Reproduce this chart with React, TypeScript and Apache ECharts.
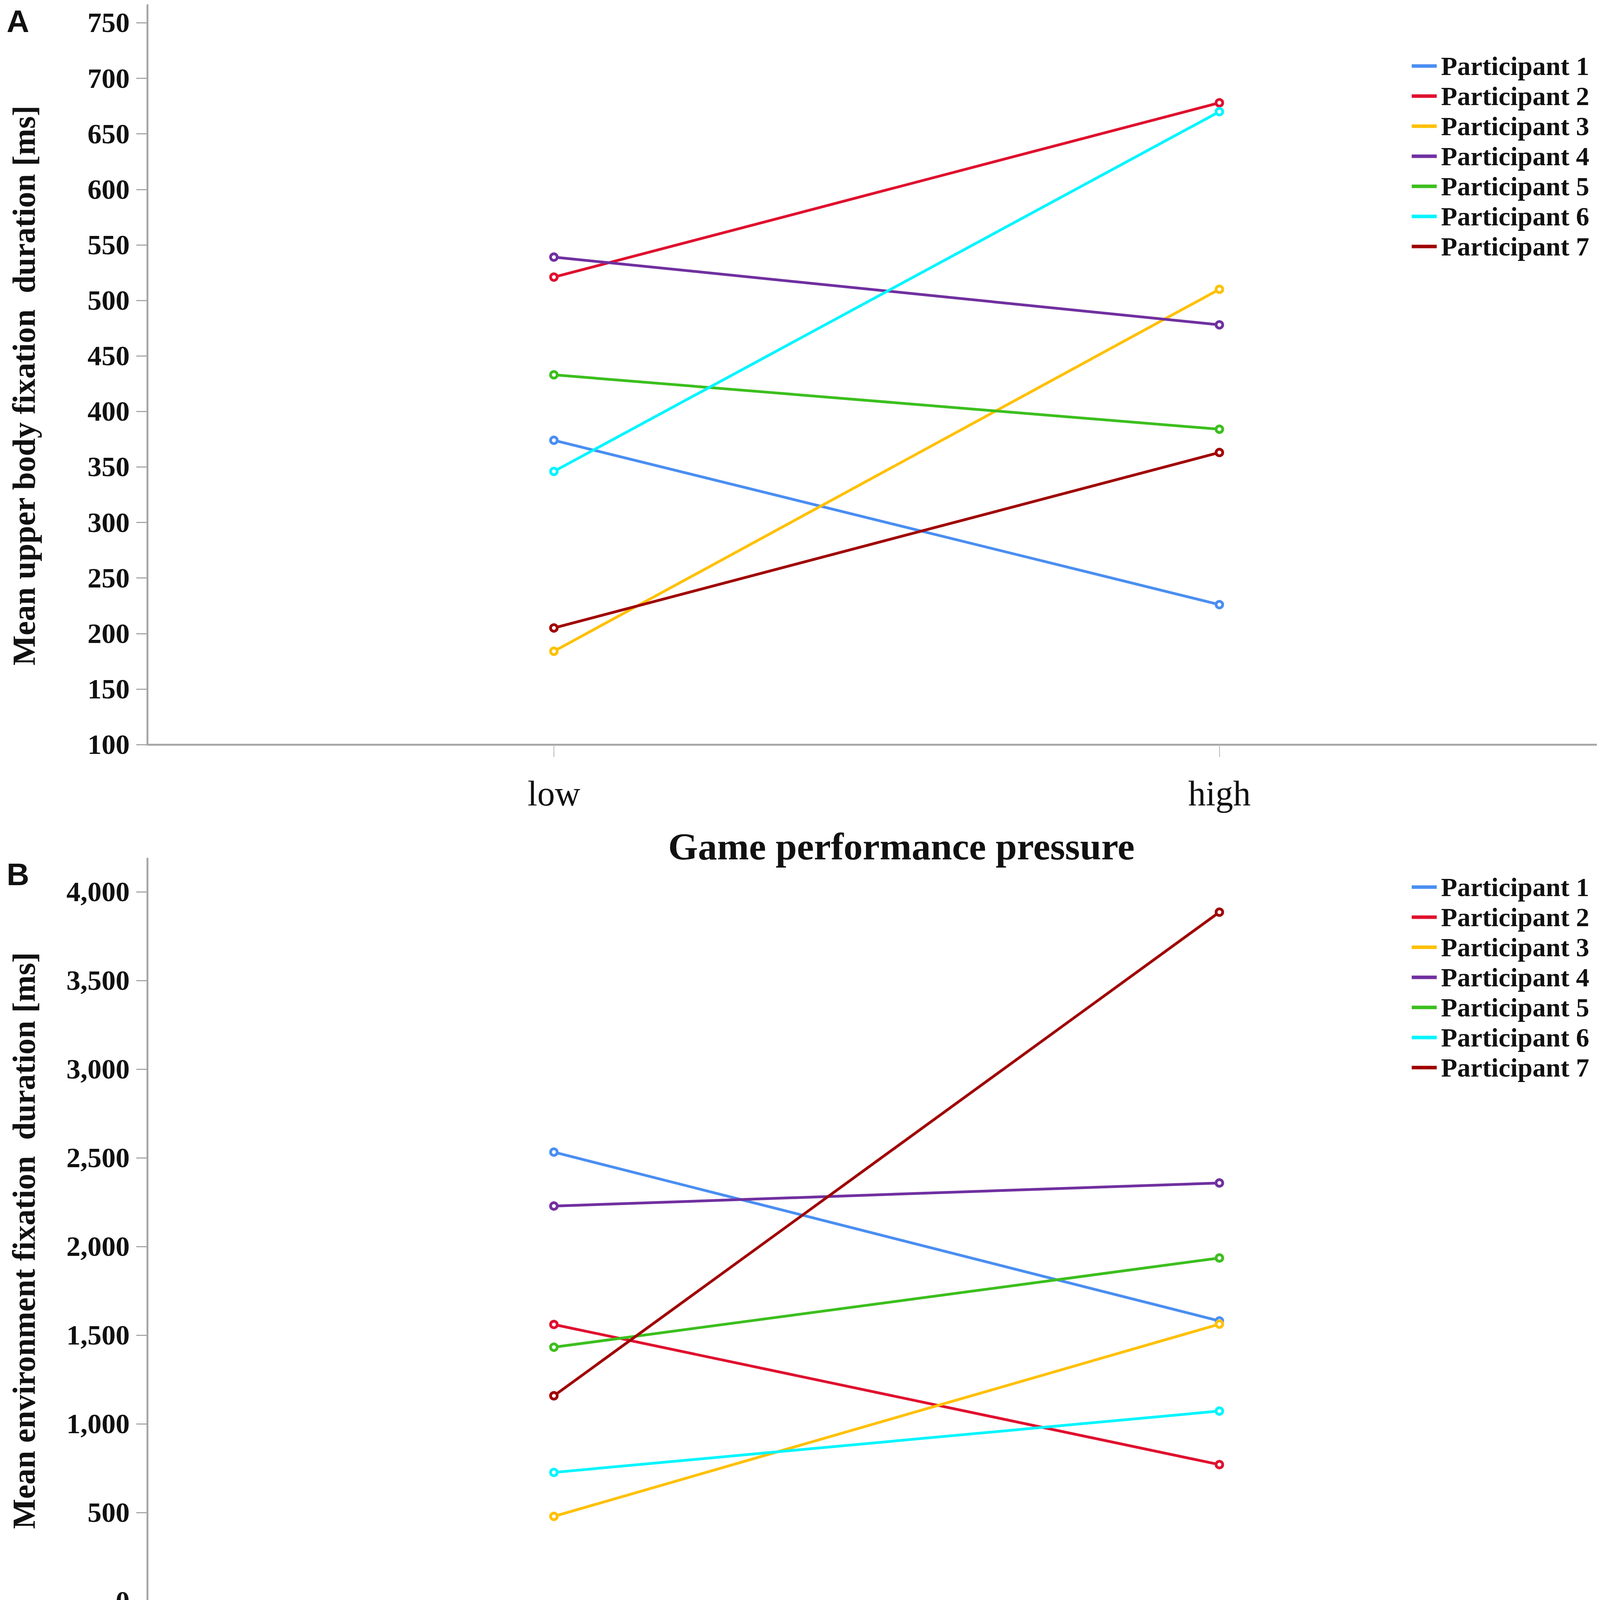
import React, { useEffect, useRef } from "react";
import * as echarts from "echarts";

const participants = [
  "Participant 1",
  "Participant 2",
  "Participant 3",
  "Participant 4",
  "Participant 5",
  "Participant 6",
  "Participant 7",
];
const pressureLevels = ["low", "high"];

// Panel A: mean upper body fixation duration [ms]
const upperBodyLow = [374, 521, 184, 539, 433, 346, 205];
const upperBodyHigh = [226, 678, 510, 478, 384, 670, 363];

// Panel B: mean environment fixation duration [ms]
const environmentLow = [2532, 1560, 478, 2228, 1432, 726, 1158];
const environmentHigh = [1580, 770, 1562, 2358, 1935, 1072, 3885];

const upperBodyTicks = [100, 150, 200, 250, 300, 350, 400, 450, 500, 550, 600, 650, 700, 750];
const environmentTicks = [0, 500, 1000, 1500, 2000, 2500, 3000, 3500, 4000];
const pressureTicks = [0, 1];

const colors = ["#4a8ef2", "#e0102e", "#ffc000", "#7030a0", "#3cbf1e", "#00f5ff", "#a00000"];

const SERIF = "'Liberation Serif', 'DejaVu Serif', serif";
const SANS = "'Liberation Sans', Arial, sans-serif";

export default function App() {
  const ref = useRef<HTMLDivElement>(null);

  useEffect(() => {
    if (!ref.current) return;
    const chart = echarts.init(ref.current, undefined, { renderer: "svg" });

    const xAxisBase = (gridIndex: number, labelMargin: number, nameGap: number) => ({
      type: "value",
      gridIndex,
      min: -0.611,
      max: 1.613,
      name: "Game performance pressure",
      nameLocation: "middle",
      nameGap,
      nameTextStyle: {
        fontFamily: SERIF,
        fontWeight: "bold",
        fontSize: 98,
        color: "#111",
        verticalAlign: "top",
        padding: [0, 0, 0, 72],
      },
      splitLine: { show: false },
      axisLine: { show: true, onZero: false, lineStyle: { color: "#a8a8a8", width: 5 } },
      axisTick: {
        show: true,
        customValues: pressureTicks,
        length: 32,
        lineStyle: { color: "#b8b8b8", width: 2 },
      },
      axisLabel: {
        customValues: pressureTicks,
        margin: labelMargin,
        fontFamily: SERIF,
        fontSize: 90,
        color: "#111",
        formatter: (v: number) => pressureLevels[Math.round(v)] ?? "",
      },
    });

    const yAxisBase = (
      gridIndex: number,
      min: number,
      max: number,
      ticks: number[],
      name: string,
      fmt: (v: number) => string
    ) => ({
      type: "value",
      gridIndex,
      min,
      max,
      name,
      nameLocation: "middle",
      nameGap: 275,
      nameTextStyle: {
        fontFamily: SERIF,
        fontWeight: "bold",
        fontSize: 82,
        color: "#111",
        padding: [0, 55, 0, 0],
      },
      splitLine: { show: false },
      axisLine: { show: true, onZero: false, lineStyle: { color: "#a8a8a8", width: 5 } },
      axisTick: {
        show: true,
        customValues: ticks,
        length: 28,
        lineStyle: { color: "#a8a8a8", width: 3 },
      },
      axisLabel: {
        customValues: ticks,
        margin: 45,
        fontFamily: SERIF,
        fontWeight: "bold",
        fontSize: 72,
        color: "#111",
        formatter: fmt,
      },
    });

    const makeSeries = (low: number[], high: number[], axisIndex: number) =>
      participants.map((p, i) => ({
        name: p,
        type: "line",
        xAxisIndex: axisIndex,
        yAxisIndex: axisIndex,
        data: [
          [0, low[i]],
          [1, high[i]],
        ],
        symbol: "circle",
        symbolSize: 17,
        showSymbol: true,
        lineStyle: { width: 7, color: colors[i] },
        itemStyle: { color: "#ffffff", borderColor: colors[i], borderWidth: 7 },
        z: 3,
      }));

    const legendBase = (top: number) => ({
      show: true,
      data: participants.map((p, i) => ({ name: p, itemStyle: { color: colors[i], borderWidth: 0 } })),
      orient: "vertical",
      left: 3609,
      top,
      icon: "rect",
      itemWidth: 64,
      itemHeight: 9,
      itemGap: 9,
      selectedMode: false,
      textStyle: {
        fontFamily: SERIF,
        fontWeight: "bold",
        fontSize: 68,
        color: "#111",
        padding: [0, 0, 0, 6],
      },
    });

    chart.setOption({
      animation: false,
      backgroundColor: "#ffffff",
      grid: [
        { left: 377, right: 20, top: 13, height: 1893, containLabel: false },
        { left: 377, right: 20, top: 2198, height: 1901, containLabel: false },
      ],
      xAxis: [xAxisBase(0, 80, 212), xAxisBase(1, 88, 310)],
      yAxis: [
        yAxisBase(0, 100, 766, upperBodyTicks, "Mean upper body fixation  duration [ms]", (v: number) => String(v)),
        yAxisBase(1, 0, 4187, environmentTicks, "Mean environment fixation  duration [ms]", (v: number) =>
          v.toLocaleString("en-US")
        ),
      ],
      legend: [legendBase(130), legendBase(2232)],
      graphic: [
        {
          type: "text",
          left: 17,
          top: 14,
          style: { text: "A", fontFamily: SANS, fontWeight: "bold", fontSize: 80, fill: "#111" },
        },
        {
          type: "text",
          left: 17,
          top: 2198,
          style: { text: "B", fontFamily: SANS, fontWeight: "bold", fontSize: 80, fill: "#111" },
        },
      ],
      series: [...makeSeries(upperBodyLow, upperBodyHigh, 0), ...makeSeries(environmentLow, environmentHigh, 1)],
    });

    return () => chart.dispose();
  }, []);

  return (
    <div
      ref={ref}
      style={{ width: 4186, height: 4517, margin: "-8px 0 0 -8px", background: "#fff" }}
    />
  );
}
